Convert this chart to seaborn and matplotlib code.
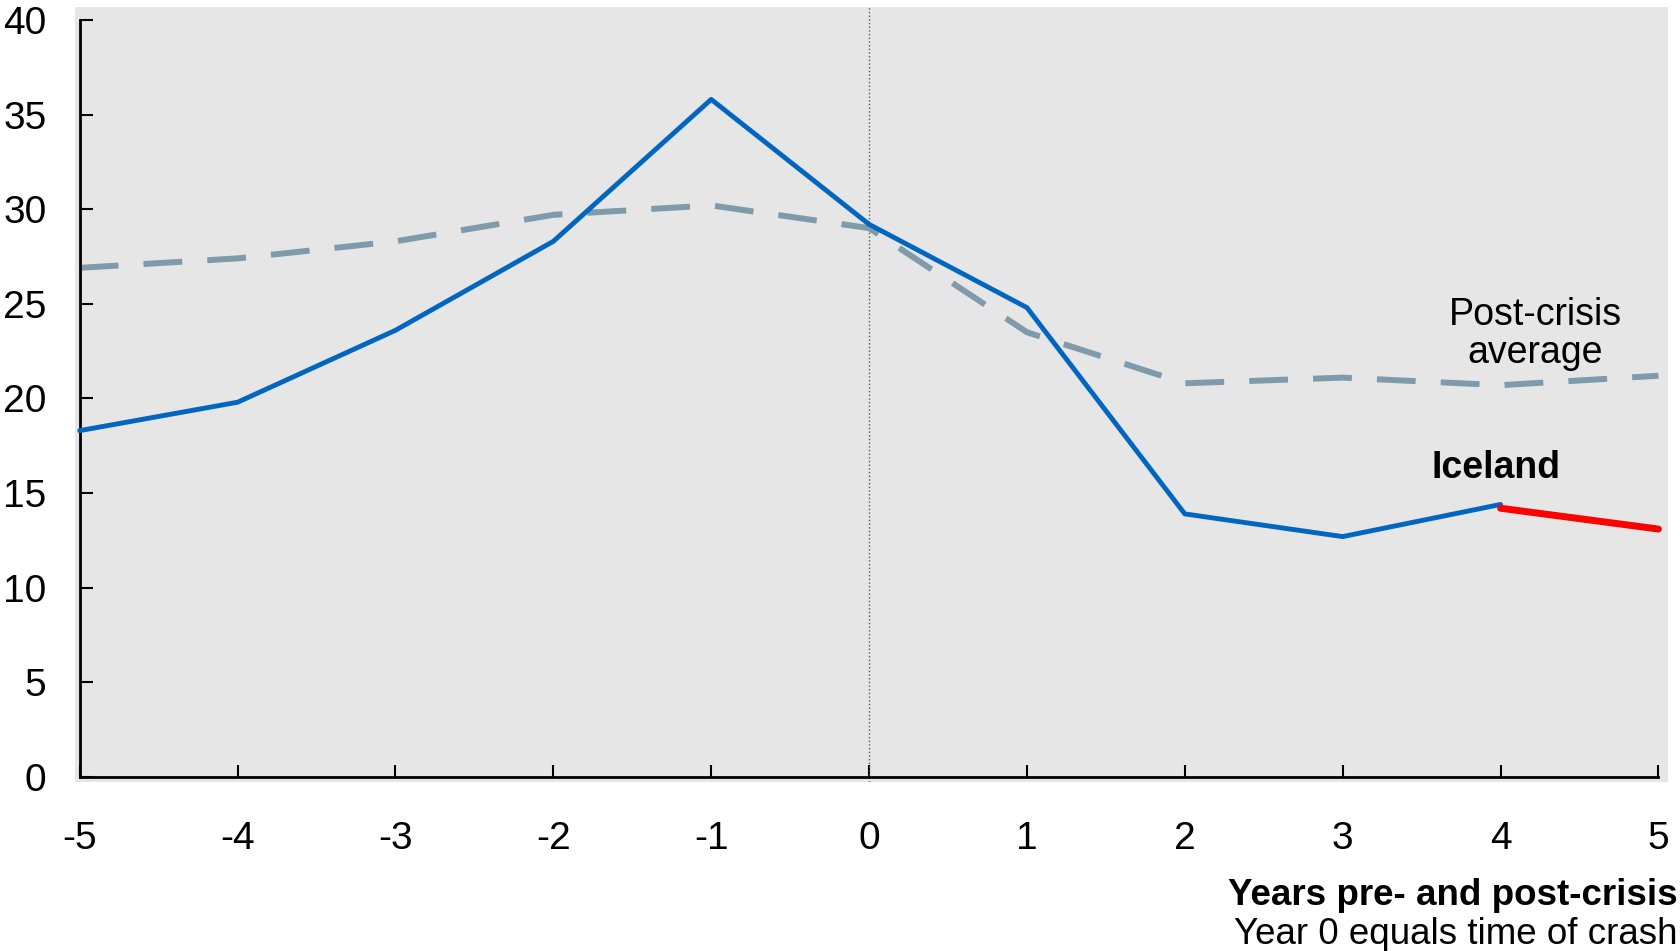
import pandas as pd
import seaborn as sns
import matplotlib.pyplot as plt

# Years relative to the crash
years = [-5, -4, -3, -2, -1, 0, 1, 2, 3, 4, 5]

# Iceland (observed up to year 4), projection from 4 to 5
iceland = [18.3, 19.8, 23.6, 28.3, 35.8, 29.2, 24.8, 13.9, 12.7, 14.4]
proj_years = [4, 5]
iceland_proj = [14.2, 13.1]

# Post-crisis average
average = [26.9, 27.4, 28.3, 29.7, 30.2, 29.0, 23.5, 20.8, 21.1, 20.7, 21.2]

ice_df = pd.DataFrame({'year': years[:len(iceland)], 'value': iceland})
proj_df = pd.DataFrame({'year': proj_years, 'value': iceland_proj})
avg_df = pd.DataFrame({'year': years, 'value': average})

sns.set_style('white', {'axes.facecolor': '#e6e6e6'})
plt.rcParams['font.family'] = ['Liberation Sans', 'DejaVu Sans']
plt.rcParams['text.color'] = 'black'
plt.rcParams['xtick.color'] = 'black'
plt.rcParams['ytick.color'] = 'black'

fig = plt.figure(figsize=(16.81, 9.51), dpi=100)
ax = fig.add_axes([0.0446, 0.178, 0.9476, 0.815])

ax.axvline(0, color='#555555', lw=1, ls=':', zorder=1)

sns.lineplot(data=avg_df, x='year', y='value', ax=ax, color='#7f9aab',
             lw=4.3, zorder=2)
ax.lines[-1].set_dashes([6.5, 4.2])
sns.lineplot(data=ice_df, x='year', y='value', ax=ax, color='#0066c0',
             lw=3.5, zorder=3)
sns.lineplot(data=proj_df, x='year', y='value', ax=ax, color='#ff0000',
             lw=5, zorder=4)

ax.set_xlim(-5.03, 5.06)
ax.set_ylim(-0.25, 40.7)
ax.set_xticks(years)
ax.set_xticklabels([str(y) for y in years])
ax.set_yticks(range(0, 41, 5))
ax.tick_params(axis='both', direction='in', length=9, width=1.5,
               labelsize=28, bottom=True, left=True)
ax.tick_params(axis='x', pad=32)
ax.tick_params(axis='y', pad=24)

for s in ['top', 'right']:
    ax.spines[s].set_visible(False)
ax.spines['left'].set_bounds(0, 40)
ax.spines['bottom'].set_bounds(-5, 5)
ax.spines['left'].set_position(('data', -5))
ax.spines['bottom'].set_position(('data', 0))
for s in ['left', 'bottom']:
    ax.spines[s].set_linewidth(2)
    ax.spines[s].set_color('black')

ax.set_xlabel('')
ax.set_ylabel('')

ax.text(4.22, 23.4, 'Post-crisis\naverage', ha='center', va='center',
        fontsize=27, linespacing=1.05)
ax.text(3.97, 16.3, 'Iceland', ha='center', va='center',
        fontsize=27, fontweight='bold')

fig.text(0.998, 0.058, 'Years pre- and post-crisis', ha='right', va='center',
         fontsize=26.5, fontweight='bold')
fig.text(0.998, 0.017, 'Year 0 equals time of crash', ha='right', va='center',
         fontsize=26.5)

fig.savefig('out.png', dpi=100)
